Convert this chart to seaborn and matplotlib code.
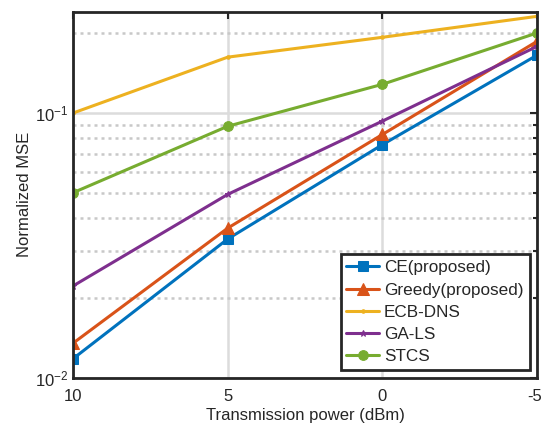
import numpy as np
import pandas as pd
import matplotlib
matplotlib.use("Agg")
import matplotlib.pyplot as plt
import matplotlib.transforms as mtransforms
import seaborn as sns

power = [10, 5, 0, -5]
ce = [0.0118, 0.0334, 0.0758, 0.165]
greedy = [0.0135, 0.0367, 0.0828, 0.186]
ecb_dns = [0.0997, 0.162, 0.1925, 0.231]
ga_ls = [0.0222, 0.0492, 0.093, 0.178]
stcs = [0.0499, 0.0889, 0.128, 0.200]

names = ["CE(proposed)", "Greedy(proposed)", "ECB-DNS", "GA-LS", "STCS"]
colors = ["#0072BD", "#D95319", "#EDB120", "#7E2F8E", "#77AC30"]
markers = ["s", "^", ".", "*", "o"]
msizes = [7, 9, 5, 5, 7]

df = pd.DataFrame({
    "power": power * 5,
    "mse": ce + greedy + ecb_dns + ga_ls + stcs,
    "method": [n for n in names for _ in power],
})

sns.set_style("white")
plt.rcParams["font.family"] = ["Liberation Sans", "DejaVu Sans"]

fig = plt.figure(figsize=(5.43, 4.25), dpi=100)
ax = fig.add_axes([0.1344, 0.111, 0.855, 0.861])

for name, c, m, ms in zip(names, colors, markers, msizes):
    sub = df[df["method"] == name]
    sns.lineplot(data=sub, x="power", y="mse", ax=ax, color=c, marker=m,
                 markersize=ms, markeredgecolor=c, linewidth=2.2, label=name)

ax.set_yscale("log")
ax.set_xlim(10, -5)
ax.set_ylim(0.01, 0.24)
ax.set_xticks([10, 5, 0, -5])
ax.set_xticklabels(["10", "5", "0", "-5"])

ax.grid(True, which="major", color="#dcdcdc", linewidth=1.8, linestyle="-")
ax.grid(True, which="minor", axis="y", color="#c8c8c8", linewidth=1.8, linestyle=(0, (1.2, 1.6)))
ax.set_axisbelow(True)

ax.tick_params(which="both", direction="in", top=True, right=True, labelsize=12, colors="#262626")
ax.tick_params(which="major", length=5, width=1.5)
ax.tick_params(which="minor", length=3, width=1.5)
ax.tick_params(axis="x", pad=8)
ax.yaxis.set_minor_formatter(plt.NullFormatter())
for s in ax.spines.values():
    s.set_color("#262626")
    s.set_linewidth(2)

# the last tick label sits right at the figure edge; nudge it inside
last = ax.get_xticklabels()[-1]
last.set_transform(last.get_transform() + mtransforms.ScaledTranslation(-0.03, 0, fig.dpi_scale_trans))

ax.set_xlabel("Transmission power (dBm)", fontsize=12, color="#262626", labelpad=3)
ax.set_ylabel("Normalized MSE", fontsize=12, color="#262626", labelpad=2)

leg = ax.legend(loc="lower right", fontsize=12.3, frameon=True, fancybox=False,
                borderpad=0.35, labelspacing=0.42, handlelength=1.9, handletextpad=0.3,
                borderaxespad=0.45)
leg.get_frame().set_edgecolor("#262626")
leg.get_frame().set_linewidth(2)
leg.get_frame().set_alpha(1)

fig.savefig("out.png", dpi=100)
